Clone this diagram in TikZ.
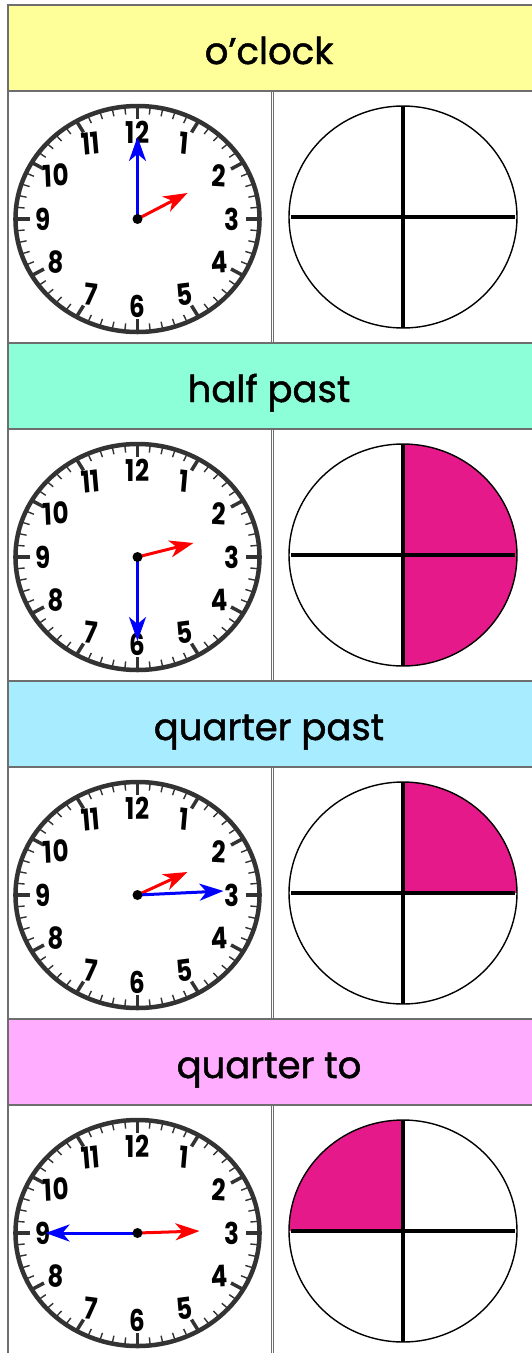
\documentclass[tikz,border=0pt]{standalone}
\usepackage{fontspec}
\setmainfont{Poppins}
\newfontfamily\hdrfont{Poppins}[FakeBold=1.3]
\usetikzlibrary{arrows.meta}

\definecolor{gridgray}{HTML}{6E6E6E}
\definecolor{rimgray}{HTML}{333333}
\definecolor{hdyellow}{HTML}{FFFF99}
\definecolor{hdmint}{HTML}{8CFFD8}
\definecolor{hdblue}{HTML}{A8ECFF}
\definecolor{hdpink}{HTML}{FFAEFF}
\definecolor{piepink}{HTML}{E6198A}

\begin{document}
\begin{tikzpicture}[x=1pt, y=-1pt,
  hdr/.style={draw=gridgray, line width=1.6pt, anchor=north west, outer sep=0pt,
    minimum width=526pt, minimum height=86pt, inner sep=0pt},
  hdrtext/.style={anchor=base, font=\hdrfont\fontsize{37}{40}\selectfont},
  cell/.style={draw=gridgray, line width=1.6pt, anchor=north west, outer sep=0pt,
    minimum height=252pt, inner sep=0pt},
  rim/.style={draw=rimgray, line width=4.5pt},
  hourtick/.style={draw=rimgray, line width=3.5pt},
  mintick/.style={draw=rimgray, line width=1.4pt},
  num/.style={font=\bfseries\fontsize{30}{30}\selectfont, inner sep=0pt, xscale=0.82},
  hand/.style={line width=3pt, -{Stealth[length=24pt, width=17pt, inset=7pt]}},
  pie/.style={draw=black, line width=1.4pt},
  cross/.style={draw=black, line width=3.4pt}
]
\useasboundingbox (0,0) rectangle (532,1353);

\foreach \i/\hcol/\htxt/\sa/\ea in {0/hdyellow/o’clock/0/0, 1/hdmint/half past/-90/90,
    2/hdblue/quarter past/-90/0, 3/hdpink/quarter to/-180/-90} {
  \pgfmathsetmacro{\hy}{5+338*\i}
  \pgfmathsetmacro{\ry}{\hy+86}
  % header
  \node[hdr, fill=\hcol] (hd\i) at (8,\hy) {};
  \node[hdrtext] (tx\i) at (269,\hy+59) {\htxt};
  % cells
  \node[cell, minimum width=263.5pt] (ck\i) at (8,\ry) {};
  \node[cell, minimum width=260pt] (pc\i) at (273.5,\ry) {};
  \coordinate (c\i) at (137.5,\ry+128);
  \coordinate (p\i) at (403,\ry+126);
  % clock face
  \begin{scope}[shift={(c\i)}, xscale=1.08]
    \draw[rim] (0,0) circle (113);
    \foreach \m in {0,...,59} \draw[mintick] (6*\m:113) -- (6*\m:105);
    \foreach \m in {0,...,11} \draw[hourtick] (30*\m:113) -- (30*\m:100);
    \foreach \h/\r in {1/-6,2/-3,3/0,4/3,5/6,6/0,7/-6,8/-3,9/0,10/3,11/6,12/0}
      \node[num, rotate=\r] (n\i-\h) at (30*\h-90:87) {\h};
  \end{scope}
  % fraction circle
  \begin{scope}[shift={(p\i)}, xscale=1.027]
    \fill[piepink] (0,0) -- (\sa:111) arc[start angle=\sa, end angle=\ea, radius=111] -- cycle;
    \draw[pie] (0,0) circle (111);
    \draw[cross] (-109,0) -- (109,0) (0,-111) -- (0,111);
  \end{scope}
}

% hands
\draw[hand, red]  (c0) -- ++(50,-26) coordinate (hr0);
\draw[hand, blue] (c0) -- ++(0,-82)  coordinate (mn0);
\draw[hand, red]  (c1) -- ++(56,-14) coordinate (hr1);
\draw[hand, blue] (c1) -- ++(0,84)   coordinate (mn1);
\draw[hand, red]  (c2) -- ++(50,-23) coordinate (hr2);
\draw[hand, blue] (c2) -- ++(86,-4)  coordinate (mn2);
\draw[hand, blue] (c3) -- ++(-92,0)  coordinate (mn3);
\draw[hand, red]  (c3) -- ++(62,-2)  coordinate (hr3);
\foreach \i in {0,...,3} \fill (c\i) circle (5);
\end{tikzpicture}
\end{document}
